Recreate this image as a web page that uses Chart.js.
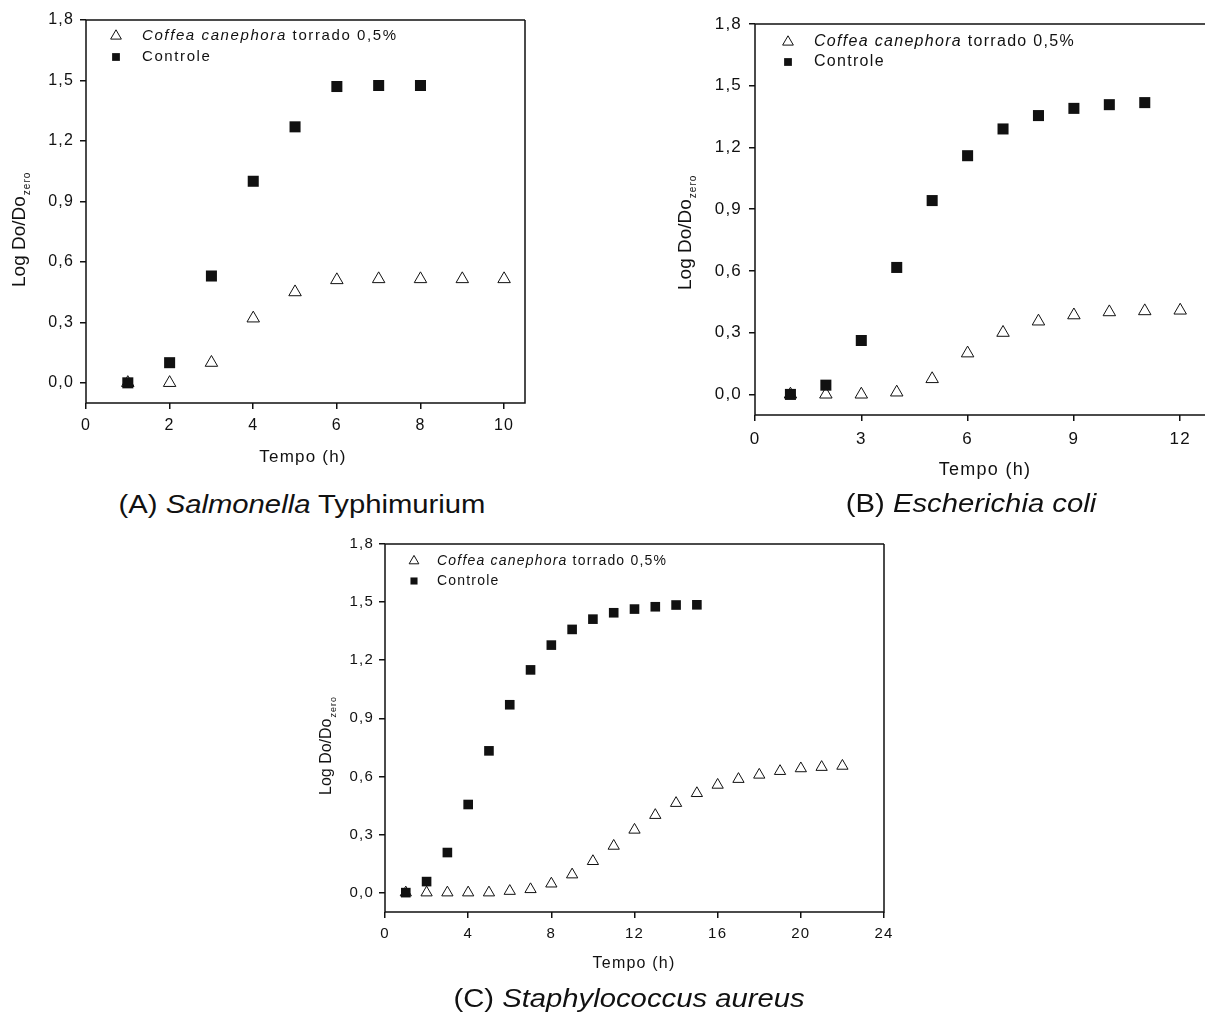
<!DOCTYPE html>
<html>
<head>
<meta charset="utf-8">
<script src="https://cdn.jsdelivr.net/npm/chart.js@4.4.1/dist/chart.umd.min.js"></script>
<style>
  html, body { margin: 0; padding: 0; background: #fff; width: 1205px; height: 1014px; overflow: hidden; }
  canvas { position: absolute; }
  .legenda {
    position: absolute;
    font-family: "Liberation Sans", Arial, sans-serif;
    font-size: 25px;
    line-height: 30px;
    color: #111;
    white-space: nowrap;
    transform-origin: 50% 50%;
    transform: translateX(-50%) scaleX(1.17);
  }
</style>
</head>
<body>
<canvas id="chartA" width="545" height="480" style="left:0px;top:0px"></canvas>
<canvas id="chartB" width="535" height="490" style="left:670px;top:0px"></canvas>
<canvas id="chartC" width="590" height="455" style="left:310px;top:530px"></canvas>

<div class="legenda" style="left:302px;top:489px">(A) <i>Salmonella</i> Typhimurium</div>
<div class="legenda" style="left:971px;top:488px">(B) <i>Escherichia coli</i></div>
<div class="legenda" style="left:629px;top:983px">(C) <i>Staphylococcus aureus</i></div>

<script>
/* ---- dados ---- */
const serieTratada = 'Coffea canephora';
const serieTratadaResto = ' torrado 0,5%';
const serieControle = 'Controle';

// (A) Salmonella Typhimurium
const tempoA = [1, 2, 3, 4, 5, 6, 7, 8, 9, 10];
const coffeaA = [0, 0, 0.10, 0.32, 0.45, 0.51, 0.515, 0.515, 0.515, 0.515];
const controleA = [0, 0.10, 0.53, 1.00, 1.27, 1.47, 1.475, 1.475];
const ticksXA = [0, 2, 4, 6, 8, 10];

// (B) Escherichia coli
const tempoB = [1, 2, 3, 4, 5, 6, 7, 8, 9, 10, 11, 12];
const coffeaB = [0, 0, 0, 0.01, 0.075, 0.20, 0.30, 0.355, 0.385, 0.40, 0.405, 0.408];
const controleB = [0, 0.045, 0.262, 0.617, 0.942, 1.16, 1.29, 1.355, 1.39, 1.408, 1.418];
const ticksXB = [0, 3, 6, 9, 12];

// (C) Staphylococcus aureus
const tempoC = [1, 2, 3, 4, 5, 6, 7, 8, 9, 10, 11, 12, 13, 14, 15, 16, 17, 18, 19, 20, 21, 22];
const coffeaC = [0, 0, 0, 0, 0, 0.008, 0.017, 0.046, 0.093, 0.162, 0.241, 0.324, 0.40, 0.462, 0.513, 0.556, 0.586, 0.608, 0.627, 0.641, 0.648, 0.654];
const controleC = [0, 0.057, 0.207, 0.455, 0.732, 0.97, 1.15, 1.278, 1.359, 1.412, 1.445, 1.464, 1.476, 1.485, 1.486];
const ticksXC = [0, 4, 8, 12, 16, 20, 24];

const ticksY = [0, 0.3, 0.6, 0.9, 1.2, 1.5, 1.8];

const FONTE = '"Liberation Sans", Arial, sans-serif';
const COR = '#111';

/* ---- plugin: moldura, legenda e títulos dos eixos ---- */
const painelPlugin = {
  id: 'painel',
  beforeDraw(chart, args, opts) {
    chart.ctx.letterSpacing = opts.tickSpacing + 'px';
  },
  afterDraw(chart, args, opts) {
    const ctx = chart.ctx;
    const a = chart.chartArea;
    ctx.save();
    ctx.letterSpacing = '0px';

    // moldura
    ctx.strokeStyle = COR;
    ctx.lineWidth = 1.5;
    ctx.beginPath();
    ctx.moveTo(a.right, a.top);
    ctx.lineTo(a.left, a.top);
    ctx.lineTo(a.left, a.bottom);
    ctx.lineTo(a.right, a.bottom);
    if (opts.frameRight) ctx.lineTo(a.right, a.top);
    ctx.stroke();

    // legenda
    const lg = opts.legenda;
    ctx.lineWidth = 1;
    ctx.strokeStyle = COR;
    ctx.fillStyle = '#fff';
    Chart.helpers.drawPoint(ctx, { pointStyle: 'triangle', radius: lg.tri, borderWidth: 1, rotation: 0 }, lg.x, lg.y1);
    ctx.fillStyle = COR;
    Chart.helpers.drawPoint(ctx, { pointStyle: 'rect', radius: lg.sq, borderWidth: 0, rotation: 0 }, lg.x, lg.y2);

    ctx.letterSpacing = lg.spacing + 'px';
    ctx.textAlign = 'left';
    ctx.textBaseline = 'middle';
    ctx.font = 'italic ' + lg.size + 'px ' + FONTE;
    ctx.fillText(serieTratada, lg.tx, lg.y1);
    const w = ctx.measureText(serieTratada).width;
    ctx.font = lg.size + 'px ' + FONTE;
    ctx.fillText(serieTratadaResto, lg.tx + w, lg.y1);
    ctx.fillText(serieControle, lg.tx, lg.y2);

    // título do eixo x
    const tx = opts.tituloX;
    ctx.letterSpacing = tx.spacing + 'px';
    ctx.textAlign = 'center';
    ctx.font = tx.size + 'px ' + FONTE;
    ctx.fillText('Tempo (h)', tx.x, tx.y);

    // título do eixo y com subscrito
    const ty = opts.tituloY;
    ctx.letterSpacing = '0px';
    ctx.translate(ty.x, ty.y);
    ctx.rotate(-Math.PI / 2);
    ctx.textAlign = 'left';
    ctx.textBaseline = 'alphabetic';
    ctx.font = ty.size + 'px ' + FONTE;
    ctx.fillText('Log Do/Do', 0, 0);
    const wy = ctx.measureText('Log Do/Do').width;
    ctx.font = ty.sub + 'px ' + FONTE;
    ctx.letterSpacing = '1px';
    ctx.fillText('zero', wy + 1, ty.subShift);

    ctx.restore();
    ctx.letterSpacing = '0px';
  }
};

function pontos(xs, ys) {
  return ys.map((y, i) => ({ x: xs[i], y: y }));
}

function virgula(v) {
  return v.toFixed(1).replace('.', ',');
}

function criarPainel(id, p) {
  const ctx = document.getElementById(id);
  return new Chart(ctx, {
    type: 'scatter',
    data: {
      datasets: [
        {
          label: serieControle,
          data: pontos(p.tempo, p.controle),
          pointStyle: 'rect',
          pointRadius: p.sq,
          pointBackgroundColor: COR,
          pointBorderWidth: 0,
          order: 0
        },
        {
          label: serieTratada + serieTratadaResto,
          data: pontos(p.tempo, p.coffea),
          pointStyle: 'triangle',
          pointRadius: p.tri,
          pointBackgroundColor: 'rgba(255,255,255,0)',
          pointBorderColor: COR,
          pointBorderWidth: 1,
          order: 1
        }
      ]
    },
    options: {
      responsive: false,
      animation: false,
      events: [],
      layout: { autoPadding: false, padding: { top: p.padTop, right: p.padRight, bottom: 0, left: 0 } },
      plugins: {
        legend: { display: false },
        tooltip: { enabled: false },
        painel: {
          tickSpacing: p.tickSpacing,
          frameRight: p.frameRight,
          legenda: p.legenda,
          tituloX: p.tituloX,
          tituloY: p.tituloY
        }
      },
      scales: {
        x: {
          type: 'linear',
          min: 0,
          max: p.xMax,
          afterBuildTicks: s => { s.ticks = p.ticksX.map(v => ({ value: v })); },
          afterFit: s => { s.height = p.xHeight; s.paddingLeft = 0; s.paddingRight = 0; },
          border: { display: false },
          grid: { drawOnChartArea: false, drawTicks: true, tickLength: 6, color: COR, lineWidth: 1.5 },
          ticks: { color: COR, font: { family: FONTE, size: p.tickSize }, padding: p.padTickX, maxRotation: 0, autoSkip: false }
        },
        y: {
          type: 'linear',
          min: -0.1,
          max: 1.8,
          afterBuildTicks: s => { s.ticks = ticksY.map(v => ({ value: v })); },
          afterFit: s => { s.width = p.yWidth; s.paddingTop = 0; s.paddingBottom = 0; },
          border: { display: false },
          grid: { drawOnChartArea: false, drawTicks: true, tickLength: 6, color: COR, lineWidth: 1.5 },
          ticks: { color: COR, font: { family: FONTE, size: p.tickSize }, padding: p.padTickY, callback: v => virgula(v), autoSkip: false }
        }
      }
    },
    plugins: [painelPlugin]
  });
}

criarPainel('chartA', {
  tempo: tempoA, coffea: coffeaA, controle: controleA, ticksX: ticksXA,
  xMax: 10.5, padTop: 20, padRight: 20, yWidth: 86, xHeight: 77,
  tickSize: 16, tickSpacing: 1.2, padTickX: 7, padTickY: 6,
  sq: 7.8, tri: 7.2, frameRight: true,
  legenda: { x: 116, y1: 36, y2: 57, tx: 142, size: 15, spacing: 1.6, tri: 6.2, sq: 5.5 },
  tituloX: { x: 303, y: 457, size: 17, spacing: 1.2 },
  tituloY: { x: 25, y: 287, size: 19, sub: 10, subShift: 5 }
});

criarPainel('chartB', {
  tempo: tempoB, coffea: coffeaB, controle: controleB, ticksX: ticksXB,
  xMax: 12.7, padTop: 24, padRight: 0, yWidth: 85, xHeight: 75,
  tickSize: 17, tickSpacing: 1.2, padTickX: 8, padTickY: 7,
  sq: 7.8, tri: 7.2, frameRight: false,
  legenda: { x: 118, y1: 42, y2: 62, tx: 144, size: 16, spacing: 1.3, tri: 6.2, sq: 5.5 },
  tituloX: { x: 315, y: 470, size: 18, spacing: 1.3 },
  tituloY: { x: 21, y: 290, size: 19, sub: 10, subShift: 5 }
});

criarPainel('chartC', {
  tempo: tempoC, coffea: coffeaC, controle: controleC, ticksX: ticksXC,
  xMax: 24, padTop: 14, padRight: 16, yWidth: 75, xHeight: 73,
  tickSize: 15, tickSpacing: 1.2, padTickX: 7, padTickY: 5,
  sq: 6.8, tri: 6.5, frameRight: true,
  legenda: { x: 104, y1: 31, y2: 51, tx: 127, size: 14, spacing: 1.2, tri: 5.6, sq: 5 },
  tituloX: { x: 324, y: 434, size: 16, spacing: 1.2 },
  tituloY: { x: 21, y: 265, size: 16, sub: 9, subShift: 5 }
});
</script>
</body>
</html>
